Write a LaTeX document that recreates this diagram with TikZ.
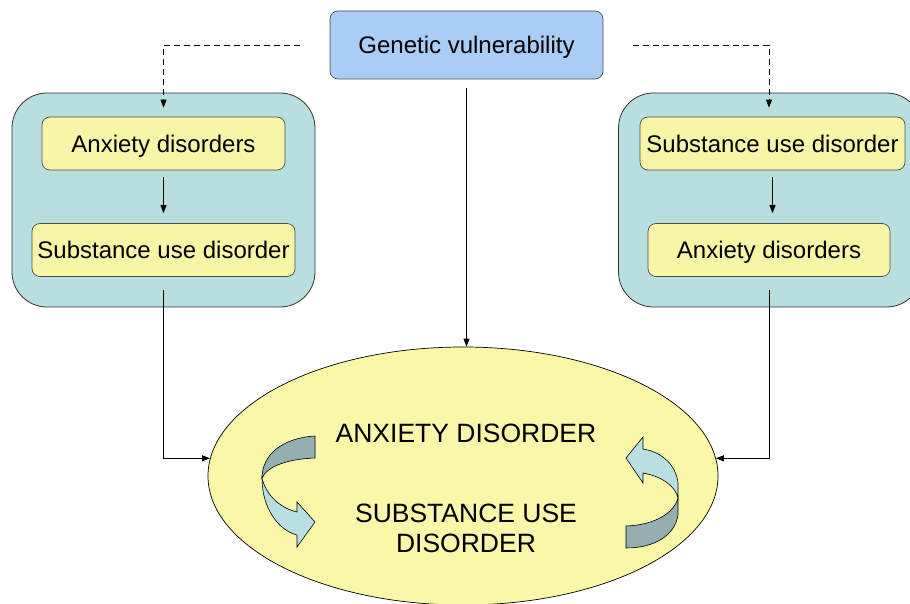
\documentclass[tikz,border=0pt]{standalone}
\usepackage{fontspec}
\setmainfont{Liberation Sans}
\usetikzlibrary{arrows.meta,shapes.geometric}

\definecolor{genblue}{HTML}{A9CDF3}
\definecolor{boxyellow}{HTML}{F7F5A6}
\definecolor{ovalyellow}{HTML}{FAF7A8}
\definecolor{grpteal}{HTML}{B8DFE0}
\definecolor{ribdark}{HTML}{94AFB1}
\definecolor{riblight}{HTML}{B9DFE3}

\begin{document}
\begin{tikzpicture}[x=1pt,y=-1pt,
    grp/.style = {rectangle,draw=black!80,line width=0.8pt,fill=grpteal,rounded corners=35pt,minimum width=303pt,minimum height=214pt},
    box/.style = {rectangle,draw=black!70,line width=0.7pt,fill=boxyellow,rounded corners=8pt,minimum height=53pt,inner xsep=2pt,text depth=0pt,font=\fontsize{24}{28}\selectfont},
    link/.style = {line width=0.9pt,-{Triangle[length=8pt,width=6pt]}},
    ribbon/.style = {draw=black,line width=0.6pt},
    big/.style = {font=\fontsize{26.5}{30}\selectfont,align=center}]
\useasboundingbox (0,0) rectangle (910,604);
\clip (0,0) rectangle (910,604);

\node[grp] (grpL) at (163.5,200) {};
\node[grp] (grpR) at (770,200) {};
\node[box,minimum width=243pt] (anx1) at (163.5,143.5) {Anxiety disorders};
\node[box,minimum width=263pt] (sub1) at (163.5,250) {Substance use disorder};
\node[box,minimum width=265pt] (sub2) at (772.5,143.5) {Substance use disorder};
\node[box,minimum width=242pt] (anx2) at (769,250) {Anxiety disorders};
\node[box,fill=genblue,minimum width=273pt,minimum height=68pt] (gen) at (466.5,45) {Genetic vulnerability};
\node[ellipse,draw,line width=0.7pt,fill=ovalyellow,minimum width=510pt,minimum height=258pt,inner sep=0pt] (ell) at (463,476) {};

% links
\draw[link,dash pattern=on 6pt off 4pt] ([xshift=-30pt]gen.west) -| ([yshift=9pt]anx1.north);
\draw[link,dash pattern=on 6pt off 4pt] ([xshift=30pt]gen.east) -| ([yshift=9pt]anx2.north |- sub2.north);
\draw[link] ([yshift=-9pt]gen.south) -- (gen.south |- ell.north);
\draw[link] ([yshift=-7pt]anx1.south) -- ([yshift=10pt]sub1.north);
\draw[link] ([yshift=-7pt]sub2.south) -- ([yshift=10pt]sub2.south |- anx2.north);
\draw[link] ([yshift=-13pt]sub1.south) |- (ell.176);
\draw[link] ([yshift=-13pt]anx2.south) |- (ell.4);

% ribbons
\draw[ribbon,fill=ribdark] (315,436) .. controls (282,438) and (262,455) .. (262,478)
    .. controls (267,467) and (286,459) .. (315,458) -- cycle;
\draw[ribbon,fill=riblight] (262,478) .. controls (262,508) and (278,530) .. (297,535)
    -- (297,547) -- (315,522) -- (297,502) -- (297,512)
    .. controls (280,508) and (266,495) .. (262,478) -- cycle;
\draw[ribbon,fill=ribdark] (626,526) .. controls (655,525) and (674,513) .. (678,498)
    -- (678,515) .. controls (675,535) and (655,548) .. (626,548) -- cycle;
\draw[ribbon,fill=riblight] (678,498) -- (678,483) .. controls (676,465) and (662,452) .. (643,449)
    -- (643,437) -- (626,458) -- (643,483) -- (643,473)
    .. controls (660,476) and (675,485) .. (678,498) -- cycle;

\node[big] (txtA) at (466,433) {ANXIETY DISORDER};
\node[big] (txtB) at (466,528) {SUBSTANCE USE\\DISORDER};
\end{tikzpicture}
\end{document}
